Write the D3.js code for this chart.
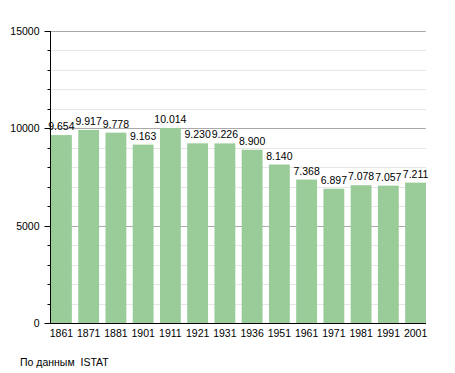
<!DOCTYPE html>
<html><head><meta charset="utf-8">
<script src="https://cdn.jsdelivr.net/npm/d3@7"></script>
<style>body{margin:0;background:#fff}svg{display:block}text{font-family:"Liberation Sans",Arial,sans-serif;fill:#000}</style>
</head><body>
<script>
const years = ["1861","1871","1881","1901","1911","1921","1931","1936","1951","1961","1971","1981","1991","2001"];
const population = [9654,9917,9778,9163,10014,9230,9226,8900,8140,7368,6897,7078,7057,7211];
const labels = ["9.654","9.917","9.778","9.163","10.014","9.230","9.226","8.900","8.140","7.368","6.897","7.078","7.057","7.211"];
const majorTicks = [0,5000,10000,15000];
const minorTicks = d3.range(0,15001,1000);
const source = "По данным  ISTAT";

const W=455,H=373;
const svg=d3.select("body").append("svg").attr("width",W).attr("height",H);
const x0=50,x1=426,yTop=31,yBot=323;
const y=d3.scaleLinear().domain([0,15000]).range([yBot,yTop]);
const x=d3.scaleBand().domain(years).range([51,426]).paddingInner(0.235).paddingOuter(0);

svg.append("g").selectAll("line").data(minorTicks.filter(d=>d%5000!==0)).join("line")
 .attr("x1",x0).attr("x2",x1).attr("y1",d=>Math.round(y(d))+0.5).attr("y2",d=>Math.round(y(d))+0.5)
 .attr("stroke","#e6e6e6").attr("stroke-width",1);
svg.append("g").selectAll("line").data(majorTicks.filter(d=>d>0)).join("line")
 .attr("x1",x0).attr("x2",x1).attr("y1",d=>Math.round(y(d))+0.5).attr("y2",d=>Math.round(y(d))+0.5)
 .attr("stroke","#aaaaaa").attr("stroke-width",1);

svg.append("g").selectAll("rect").data(population).join("rect")
 .attr("x",(d,i)=>x(years[i])).attr("width",x.bandwidth())
 .attr("y",d=>y(d)).attr("height",d=>yBot-y(d))
 .attr("fill","#99cc99");

svg.append("g").selectAll("text").data(population).join("text")
 .attr("x",(d,i)=>x(years[i])+x.bandwidth()/2).attr("y",d=>y(d)-5)
 .attr("text-anchor","middle").attr("font-size","10.5px").text((d,i)=>labels[i]);

const yAxis=svg.append("g").attr("transform",`translate(${x0+0.5},0)`);
yAxis.append("line").attr("x1",0).attr("x2",0).attr("y1",yTop).attr("y2",yBot).attr("stroke","#000");
yAxis.selectAll(".mi").data(minorTicks).join("line").attr("class","mi")
 .attr("x1",-3).attr("x2",0).attr("y1",d=>Math.round(y(d))+0.5).attr("y2",d=>Math.round(y(d))+0.5).attr("stroke","#000");
yAxis.selectAll(".ma").data(majorTicks).join("line").attr("class","ma")
 .attr("x1",-6).attr("x2",0).attr("y1",d=>Math.round(y(d))+0.5).attr("y2",d=>Math.round(y(d))+0.5).attr("stroke","#000");
yAxis.selectAll("text").data(majorTicks).join("text")
 .attr("x",-11).attr("y",d=>y(d)+4).attr("text-anchor","end").attr("font-size","10.5px").text(d=>d);

svg.append("line").attr("x1",x0).attr("x2",x1).attr("y1",yBot+0.5).attr("y2",yBot+0.5).attr("stroke","#000");
svg.append("g").selectAll("text").data(years).join("text")
 .attr("x",d=>x(d)+x.bandwidth()/2).attr("y",yBot+14).attr("text-anchor","middle").attr("font-size","10.5px").text(d=>d);

svg.append("text").attr("x",20).attr("y",366).attr("font-size","10.5px").style("white-space","pre").text(source);
</script>
</body></html>
